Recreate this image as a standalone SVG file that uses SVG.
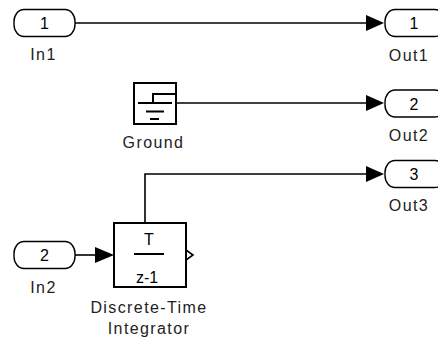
<svg xmlns="http://www.w3.org/2000/svg" width="438" height="341" viewBox="0 0 438 341">
<style>
.bg{fill:#fff}
.port{fill:#fff;stroke:#000;stroke-width:1.4}
.blk{fill:#fff;stroke:#000;stroke-width:2}
.ic{fill:none;stroke:#000;stroke-width:2}
.ln{fill:none;stroke:#000;stroke-width:1.6}
.arr{fill:#000;stroke:none}
.num{font-family:"Liberation Sans",Arial,sans-serif;font-size:16px;text-anchor:middle;fill:#000}
.lbl{font-family:"Liberation Sans",Arial,sans-serif;font-size:16px;letter-spacing:1.4px;text-anchor:middle;fill:#222}
</style>
<rect class="bg" x="0" y="0" width="438" height="341"/>
<g id="connectors">
<path class="ln" d="M75,23 H366"/>
<path class="arr" d="M366,15 L384,23 L366,31 Z"/>
<path class="ln" d="M176,103 H366"/>
<path class="arr" d="M366,95 L384,103 L366,111 Z"/>
<path class="ln" d="M145,223 V174 H366"/>
<path class="arr" d="M366,166 L384,174 L366,182 Z"/>
<path class="ln" d="M75,255 H96"/>
<path class="arr" d="M95,247 L114,255 L95,263 Z"/>
</g>
<g id="In1">
<rect class="port" x="14" y="9.5" width="61" height="27" rx="10" ry="12"/>
<text class="num" x="44.5" y="29">1</text>
<text class="lbl" x="43.5" y="60">In1</text>
</g>
<g id="Ground">
<rect class="blk" x="134" y="83" width="42" height="41"/>
<path class="ic" d="M138,103 H172 M153,103 V94 H177 M146,111.5 H164 M150,119 H159"/>
<text class="lbl" x="153.5" y="148">Ground</text>
</g>
<g id="Integrator">
<rect class="blk" x="114" y="223" width="72" height="64"/>
<text class="num" x="149" y="245">T</text>
<path class="ic" d="M134,254 H164"/>
<text class="num" x="147" y="283">z-1</text>
<path class="ln" d="M186,250 L193,255 L186,260"/>
<text class="lbl" x="149" y="313">Discrete-Time</text>
<text class="lbl" x="149" y="334">Integrator</text>
</g>
<g id="In2">
<rect class="port" x="14" y="241.5" width="61" height="27" rx="10" ry="12"/>
<text class="num" x="44.5" y="261">2</text>
<text class="lbl" x="43.5" y="293">In2</text>
</g>
<g id="Out1">
<rect class="port" x="385" y="9.5" width="60" height="27" rx="10" ry="12"/>
<text class="num" x="414" y="29">1</text>
<text class="lbl" x="409" y="61">Out1</text>
</g>
<g id="Out2">
<rect class="port" x="385" y="90" width="60" height="27" rx="10" ry="12"/>
<text class="num" x="414" y="109.5">2</text>
<text class="lbl" x="409" y="141">Out2</text>
</g>
<g id="Out3">
<rect class="port" x="385" y="160.5" width="60" height="27" rx="10" ry="12"/>
<text class="num" x="414" y="180">3</text>
<text class="lbl" x="409" y="211">Out3</text>
</g>
</svg>
